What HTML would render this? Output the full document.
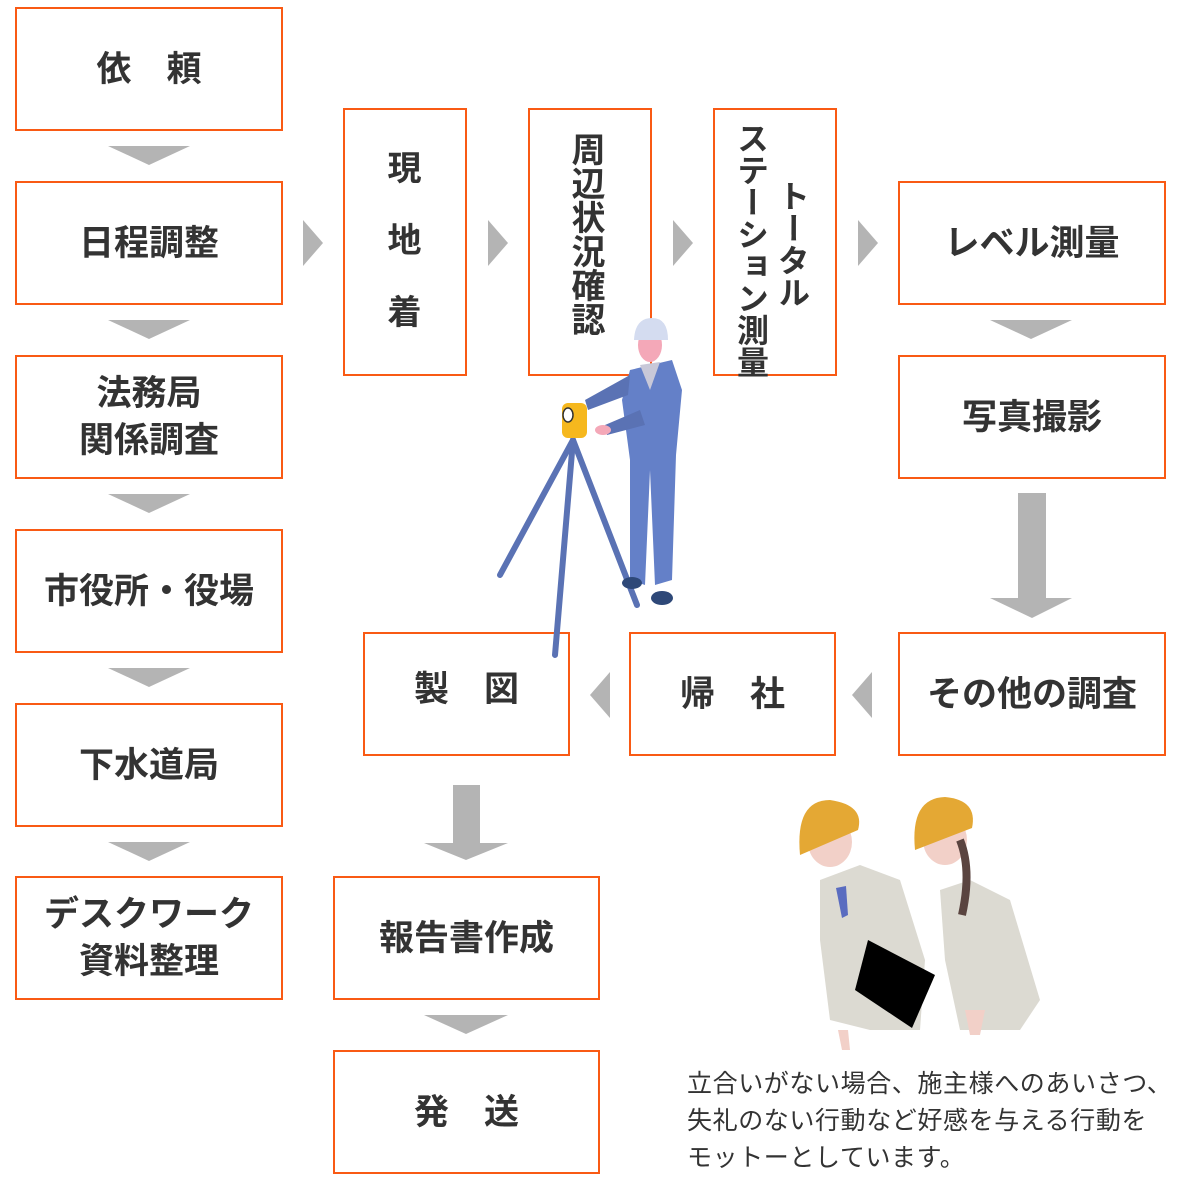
<!DOCTYPE html>
<html><head><meta charset="utf-8"><style>
html,body{margin:0;padding:0;background:#fff}
body{width:1180px;height:1180px;position:relative;overflow:hidden;font-family:"Liberation Sans","Noto Sans CJK JP",sans-serif;color:#333}
.b{position:absolute;box-sizing:border-box;border:2.5px solid #f95a14;background:#fff;display:flex;align-items:center;justify-content:center;text-align:center;font-weight:bold;font-size:35px;line-height:47px}
.v{writing-mode:vertical-rl;font-weight:bold;font-size:34px;position:absolute;line-height:36px}
svg{position:absolute;left:0;top:0}
.cap{position:absolute;left:687px;top:1066px;font-size:25px;letter-spacing:0.6px;line-height:37px;color:#333;white-space:nowrap}
</style></head><body>
<svg width="1180" height="1180">
<g fill="#b4b4b4">
<polygon points="108,146 190,146 149,165"/>
<polygon points="108,320 190,320 149,339"/>
<polygon points="108,494 190,494 149,513"/>
<polygon points="108,668 190,668 149,687"/>
<polygon points="108,842 190,842 149,861"/>
<polygon points="303,220 323,243 303,266"/>
<polygon points="488,220 508,243 488,266"/>
<polygon points="673,220 693,243 673,266"/>
<polygon points="858,220 878,243 858,266"/>
<polygon points="990,320 1072,320 1031,339"/>
<polygon points="1018,493 1046,493 1046,598 1072,598 1032,618 990,598 1018,598"/>
<polygon points="872,672 852,695 872,718"/>
<polygon points="610,672 590,695 610,718"/>
<polygon points="453,785 480,785 480,843 508,843 466,860 424,843 453,843"/>
<polygon points="424,1015 508,1015 466,1034"/>
</g>
</svg>
<div class="b" style="left:15px;top:7px;width:268px;height:124px">依　頼</div>
<div class="b" style="left:15px;top:181px;width:268px;height:124px">日程調整</div>
<div class="b" style="left:15px;top:355px;width:268px;height:124px">法務局<br>関係調査</div>
<div class="b" style="left:15px;top:529px;width:268px;height:124px">市役所・役場</div>
<div class="b" style="left:15px;top:703px;width:268px;height:124px">下水道局</div>
<div class="b" style="left:15px;top:876px;width:268px;height:124px">デスクワーク<br>資料整理</div>
<div class="b" style="left:343px;top:108px;width:124px;height:268px"></div>
<div class="v" style="left:383px;top:150px;line-height:36px;letter-spacing:38px">現地着</div>
<div class="b" style="left:528px;top:108px;width:124px;height:268px"></div>
<div class="v" style="left:567px;top:132px">周辺状況確認</div>
<div class="b" style="left:713px;top:108px;width:124px;height:268px"></div>
<div class="v" style="left:774px;top:180px;font-size:32px">トータル</div>
<div class="v" style="left:733px;top:122px;font-size:32px">ステーション測量</div>
<div class="b" style="left:898px;top:181px;width:268px;height:124px">レベル測量</div>
<div class="b" style="left:898px;top:355px;width:268px;height:124px">写真撮影</div>
<div class="b" style="left:898px;top:632px;width:268px;height:124px">その他の調査</div>
<div class="b" style="left:629px;top:632px;width:207px;height:124px">帰　社</div>
<div class="b" style="left:363px;top:632px;width:207px;height:124px;padding-bottom:10px">製　図</div>
<div class="b" style="left:333px;top:876px;width:267px;height:124px">報告書作成</div>
<div class="b" style="left:333px;top:1050px;width:267px;height:124px">発　送</div>
<svg width="1180" height="1180">
<g stroke="#5a72b4" stroke-width="6" stroke-linecap="round">
<line x1="573" y1="440" x2="500" y2="575"/>
<line x1="573" y1="440" x2="555" y2="655"/>
<line x1="573" y1="440" x2="637" y2="605"/>
</g>
<rect x="562" y="403" width="25" height="35" rx="6" fill="#f6b81e"/>
<ellipse cx="568" cy="415" rx="5" ry="7" fill="#fff" stroke="#333" stroke-width="1.5"/>
<path d="M630 370 L672 360 L682 390 L676 455 L672 580 L655 585 L650 470 L645 585 L630 580 L630 460 L622 400 Z" fill="#6480c8"/>
<path d="M630 375 L585 400 L588 410 L628 395 Z" fill="#5a72b4"/>
<path d="M640 410 L605 425 L607 435 L645 425Z" fill="#5a72b4"/>
<path d="M640 365 L660 362 L650 390 Z" fill="#c8c8d8"/>
<ellipse cx="650" cy="345" rx="12" ry="17" fill="#f4a8b8"/>
<path d="M634 340 Q635 318 652 318 Q668 318 668 340 Z" fill="#d4dcf0"/>
<ellipse cx="632" cy="583" rx="10" ry="6" fill="#2e4878"/>
<ellipse cx="662" cy="598" rx="11" ry="7" fill="#2e4878"/>
<ellipse cx="603" cy="430" rx="8" ry="5" fill="#f4a8b8"/>
<path d="M820 880 L860 865 L900 880 L925 960 L920 1030 L870 1030 L830 1020 L820 940 Z" fill="#dcdad2"/>
<path d="M940 890 L970 880 L1010 900 L1040 1000 L1020 1030 L960 1030 L945 960 Z" fill="#dcdad2"/>
<ellipse cx="830" cy="842" rx="22" ry="25" fill="#f2d0c8"/>
<ellipse cx="945" cy="840" rx="22" ry="25" fill="#f2d0c8"/>
<path d="M800 855 Q795 800 830 800 Q865 805 858 830 Z" fill="#e4a834"/>
<path d="M915 850 Q910 798 945 797 Q978 800 972 828 Z" fill="#e4a834"/>
<path d="M960 840 Q972 870 962 915" stroke="#5a4440" stroke-width="8" fill="none"/>
<path d="M836 888 L846 886 L848 915 L842 918 Z" fill="#5a6cc0"/>
<polygon points="868,940 935,975 912,1028 855,990" fill="#000"/>
<path d="M838 1030 L848 1030 L850 1050 L842 1050 Z" fill="#f2d0c8"/>
<path d="M965 1010 L985 1010 L980 1035 L970 1035 Z" fill="#f2d0c8"/>
</svg>
<div class="cap">立合いがない場合、施主様へのあいさつ、<br>失礼のない行動など好感を与える行動を<br>モットーとしています。</div>
</body></html>
